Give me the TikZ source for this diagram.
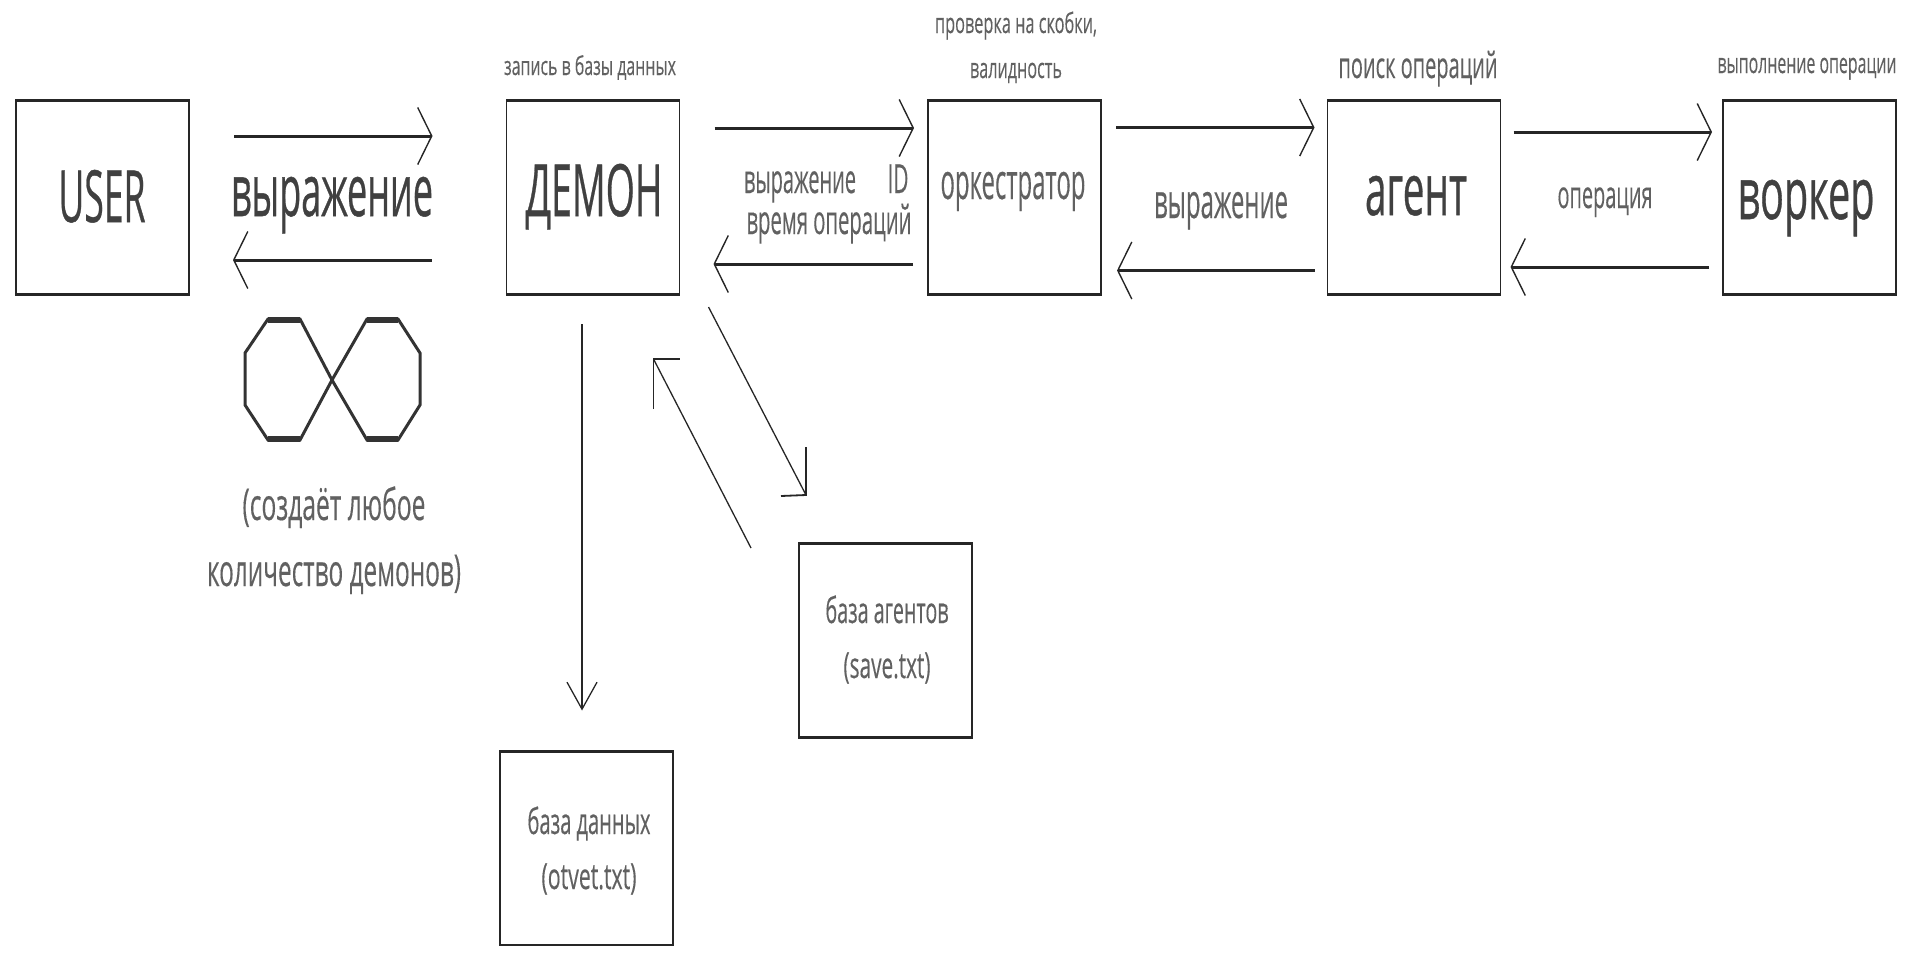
\documentclass[tikz,border=0pt]{standalone}
\usepackage{fontspec}
\usepackage{graphicx}
\setmainfont{Open Sans}
\newfontfamily\heavyf[FakeBold=0.7]{Open Sans}
\newfontfamily\midf[FakeBold=0.35]{Open Sans}
\usetikzlibrary{arrows.meta}
\newcommand{\ftxt}[3]{\resizebox{#1pt}{\height}{\fontsize{#2pt}{#2pt}\selectfont #3}}
\tikzset{
  boxn/.style={draw=black!85,line width=1.6pt,minimum width=173pt,minimum height=195pt,outer sep=0pt,inner sep=0pt,
    path picture={\draw[black!85,line width=4pt]
      (path picture bounding box.north west) -- (path picture bounding box.north east)
      (path picture bounding box.south west) -- (path picture bounding box.south east);}},
  txt/.style={anchor=base,inner sep=0pt,outer sep=0pt,text=black!75,font=\heavyf},
  txts/.style={anchor=base,inner sep=0pt,outer sep=0pt,text=black!62,font=\midf},
  big/.style={line width=3pt,draw=black!85,-{Straight Barb[length=14pt,width=57pt,line width=1.4pt]}},
  thin/.style={line width=1.3pt,draw=black!85},
  headd/.style={line width=1.8pt,draw=black!85},
}
\begin{document}
\begin{tikzpicture}[x=1pt,y=-1pt]
\useasboundingbox (0,0) rectangle (1913,956);
% boxes
\node[boxn] (user) at (102.5,197.5) {};
\node[boxn] (demon) at (593,197.5) {};
\node[boxn] (orch) at (1014.5,197.5) {};
\node[boxn] (agent) at (1414,197.5) {};
\node[boxn] (worker) at (1809.5,197.5) {};
\node[boxn] (db) at (586.5,848) {};
\node[boxn] (agents) at (885.5,640.5) {};
% box texts
\node[txt] (tuser) at (102,222) {\ftxt{87}{72}{USER}};
\node[txt] (tdemon) at (594,216) {\ftxt{137}{72}{ДЕМОН}};
\node[txts] (torch) at (1013,199) {\ftxt{145}{50}{оркестратор}};
\node[txt] (tagent) at (1416,215) {\ftxt{102}{72}{агент}};
\node[txt] (tworker) at (1806,219) {\ftxt{137}{72}{воркер}};
\node[txts] (tdb1) at (589,834) {\ftxt{123}{36}{база данных}};
\node[txts] (tdb2) at (589,889) {\ftxt{95}{36}{(otvet.txt)}};
\node[txts] (tag1) at (887,623) {\ftxt{123}{36}{база агентов}};
\node[txts] (tag2) at (887,678) {\ftxt{87}{36}{(save.txt)}};
% captions
\node[txts] (c1) at (590,75) {\ftxt{172}{26}{запись в базы данных}};
\node[txts] (c2) at (1016,33) {\ftxt{162}{28}{проверка на скобки,}};
\node[txts] (c3) at (1016,78) {\ftxt{92}{28}{валидность}};
\node[txts] (c4) at (1418,78) {\ftxt{159}{36}{поиск операций}};
\node[txts] (c5) at (1807,73) {\ftxt{179}{28}{выполнение операции}};
% arrow labels
\node[txt] (l1) at (332,216) {\ftxt{202}{72}{выражение}};
\node[txts] (l2) at (800,193) {\ftxt{112}{40}{выражение}};
\node[txts] (l3) at (898,193) {\ftxt{21}{40}{ID}};
\node[txts] (l4) at (829,234) {\ftxt{165}{40}{время операций}};
\node[txts] (l5) at (1221,218) {\ftxt{134}{48}{выражение}};
\node[txts] (l6) at (1605,208) {\ftxt{95}{38}{операция}};
\node[txts] (n1) at (334,520) {\ftxt{183}{44}{(создаёт любое}};
\node[txts] (n2) at (334,586) {\ftxt{254}{44}{количество демонов)}};
% horizontal connectors
\draw[big] ([shift={(45,36)}]user.north east) -- ([shift={(-74,36)}]demon.north west);
\draw[big] ([shift={(-75,160)}]demon.north west) -- ([shift={(44,160)}]user.north east);
\draw[big] ([shift={(35,28)}]demon.north east) -- ([shift={(-14,28)}]orch.north west);
\draw[big] ([shift={(-15,164)}]orch.north west) -- ([shift={(34,164)}]demon.north east);
\draw[big] ([shift={(15,27.5)}]orch.north east) -- ([shift={(-13,27.5)}]agent.north west);
\draw[big] ([shift={(-13,170.5)}]agent.north west) -- ([shift={(16,170.5)}]orch.north east);
\draw[big] ([shift={(13,32)}]agent.north east) -- ([shift={(-11,32)}]worker.north west);
\draw[big] ([shift={(-14,167)}]worker.north west) -- ([shift={(10,167)}]agent.north east);
% database connector
\draw[thin,-{Straight Barb[length=27pt,width=30pt,line width=1.3pt]}] ([shift={(-11,29)}]demon.south) -- ([shift={(-4.5,-40)}]db.north);
% diagonal connectors with their skewed heads
\coordinate (tipa) at ([shift={(7,-48)}]agents.north west);
\coordinate (tipb) at ([shift={(-26,64)}]demon.south east);
\draw[thin] ([shift={(29,12)}]demon.south east) -- (tipa);
\draw[thin] ([shift={(-48,5)}]agents.north west) -- (tipb);
\draw[headd] (tipa) +(0,-48) -- (tipa) -- +(-25,1);
\draw[headd] (tipb) +(0,50) -- (tipb) -- +(26,0);
% infinity sign
\draw[line width=3pt,draw=black!80,line join=miter]
  (332,380) -- (300,319) -- (268,319) -- (245,353) -- (245,405) -- (268,440) -- (300,440) -- (332,380)
  -- (367,319) -- (398,319) -- (420,353) -- (420,405) -- (398,440) -- (367,440) -- cycle;
\draw[line width=6pt,draw=black!80] (268,320) -- (300,320) (367,320) -- (398,320) (268,439) -- (300,439) (367,439) -- (398,439);
\end{tikzpicture}
\end{document}
